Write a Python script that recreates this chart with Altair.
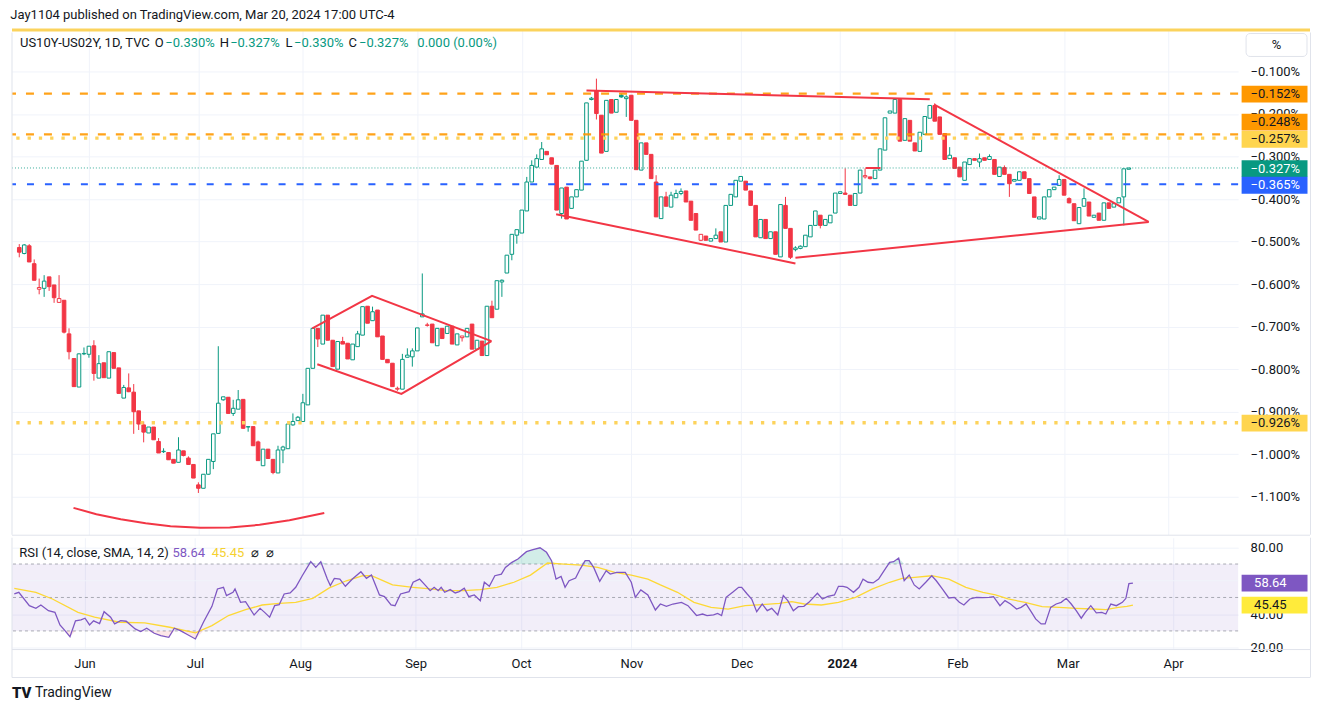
import altair as alt
import pandas as pd
import numpy as np

# ---------------- candle data (US10Y-US02Y, daily, %) ----------------
opens = [-0.514,-0.528,-0.510,-0.552,-0.612,-0.610,-0.583,-0.602,-0.643,-0.638,
 -0.717,-0.775,-0.842,-0.764,-0.765,-0.745,-0.821,-0.785,-0.821,-0.761,
 -0.797,-0.868,-0.844,-0.854,-0.898,-0.931,-0.950,-0.936,-0.970,-0.994,
 -0.996,-1.012,-1.019,-0.992,-1.009,-1.024,-1.072,-1.080,-1.047,-1.017,
 -0.951,-0.872,-0.866,-0.904,-0.894,-0.871,-0.936,-0.935,-0.971,-1.027,
 -0.988,-1.012,-1.044,-0.990,-0.987,-0.931,-0.921,-0.923,-0.884,-0.798,
 -0.704,-0.741,-0.673,-0.732,-0.800,-0.735,-0.739,-0.778,-0.747,-0.720,
 -0.652,-0.686,-0.661,-0.722,-0.777,-0.786,-0.847,-0.847,-0.772,-0.771,
 -0.757,-0.677,-0.697,-0.694,-0.745,-0.704,-0.716,-0.699,-0.743,-0.726,
 -0.724,-0.694,-0.753,-0.734,-0.768,-0.652,-0.659,-0.595,-0.574,-0.530,
 -0.485,-0.480,-0.428,-0.360,-0.325,-0.307,-0.288,-0.303,-0.321,-0.434,
 -0.372,-0.422,-0.395,-0.379,-0.309,-0.166,-0.146,-0.203,-0.288,-0.166,
 -0.196,-0.156,-0.164,-0.156,-0.215,-0.332,-0.268,-0.295,-0.360,-0.446,
 -0.395,-0.419,-0.397,-0.387,-0.381,-0.405,-0.434,-0.497,-0.487,-0.499,
 -0.493,-0.477,-0.501,-0.415,-0.395,-0.358,-0.358,-0.381,-0.415,-0.491,
 -0.448,-0.493,-0.477,-0.536,-0.415,-0.469,-0.519,-0.516,-0.512,-0.489,
 -0.462,-0.438,-0.462,-0.456,-0.433,-0.387,-0.386,-0.391,-0.415,-0.386,
 -0.348,-0.348,-0.352,-0.332,-0.285,-0.198,-0.198,-0.166,-0.262,-0.215,
 -0.268,-0.288,-0.248,-0.210,-0.180,-0.207,-0.246,-0.305,-0.303,-0.325,
 -0.356,-0.319,-0.305,-0.313,-0.303,-0.307,-0.307,-0.347,-0.326,-0.342,
 -0.358,-0.356,-0.336,-0.352,-0.395,-0.447,-0.447,-0.395,-0.378,-0.368,
 -0.354,-0.399,-0.411,-0.458,-0.417,-0.407,-0.443,-0.433,-0.450,-0.409,
 -0.419,-0.409,-0.395,-0.330]
highs = [-0.506,-0.506,-0.506,-0.542,-0.587,-0.579,-0.583,-0.602,-0.579,-0.638,
 -0.704,-0.775,-0.763,-0.749,-0.746,-0.732,-0.767,-0.785,-0.759,-0.761,
 -0.797,-0.837,-0.810,-0.835,-0.898,-0.923,-0.936,-0.936,-0.962,-0.986,
 -0.996,-1.012,-0.960,-0.992,-1.005,-1.024,-1.066,-1.047,-1.012,-0.952,
 -0.746,-0.865,-0.866,-0.872,-0.849,-0.871,-0.935,-0.935,-0.968,-0.988,
 -0.988,-1.012,-0.980,-0.980,-0.929,-0.904,-0.910,-0.858,-0.798,-0.704,
 -0.704,-0.673,-0.673,-0.732,-0.735,-0.724,-0.739,-0.741,-0.710,-0.653,
 -0.652,-0.653,-0.661,-0.722,-0.777,-0.786,-0.841,-0.764,-0.751,-0.751,
 -0.703,-0.575,-0.691,-0.694,-0.704,-0.704,-0.699,-0.699,-0.717,-0.722,
 -0.704,-0.694,-0.732,-0.734,-0.652,-0.639,-0.592,-0.589,-0.532,-0.483,
 -0.472,-0.426,-0.348,-0.309,-0.295,-0.266,-0.288,-0.303,-0.321,-0.374,
 -0.372,-0.395,-0.378,-0.311,-0.174,-0.160,-0.117,-0.203,-0.168,-0.166,
 -0.166,-0.152,-0.156,-0.156,-0.215,-0.268,-0.268,-0.295,-0.344,-0.395,
 -0.383,-0.383,-0.378,-0.375,-0.381,-0.405,-0.434,-0.483,-0.487,-0.493,
 -0.469,-0.477,-0.415,-0.389,-0.356,-0.347,-0.358,-0.381,-0.415,-0.448,
 -0.448,-0.477,-0.477,-0.413,-0.395,-0.469,-0.511,-0.509,-0.485,-0.462,
 -0.428,-0.438,-0.448,-0.438,-0.386,-0.383,-0.328,-0.391,-0.387,-0.332,
 -0.328,-0.348,-0.332,-0.282,-0.209,-0.193,-0.166,-0.166,-0.211,-0.215,
 -0.268,-0.243,-0.206,-0.180,-0.175,-0.207,-0.246,-0.278,-0.303,-0.325,
 -0.313,-0.305,-0.305,-0.293,-0.303,-0.295,-0.307,-0.325,-0.321,-0.342,
 -0.354,-0.336,-0.336,-0.352,-0.395,-0.442,-0.395,-0.378,-0.372,-0.344,
 -0.354,-0.396,-0.411,-0.420,-0.375,-0.407,-0.438,-0.433,-0.409,-0.409,
 -0.410,-0.397,-0.329,-0.327]
lows = [-0.537,-0.530,-0.548,-0.591,-0.624,-0.630,-0.616,-0.644,-0.643,-0.716,
 -0.777,-0.841,-0.842,-0.767,-0.773,-0.827,-0.821,-0.820,-0.821,-0.798,
 -0.857,-0.868,-0.854,-0.952,-0.943,-0.972,-0.950,-0.966,-0.997,-0.997,
 -1.013,-1.021,-1.019,-1.005,-1.024,-1.056,-1.091,-1.080,-1.048,-1.035,
 -0.951,-0.874,-0.904,-0.910,-0.894,-0.940,-0.947,-0.980,-1.015,-1.027,
 -1.010,-1.047,-1.044,-1.021,-0.987,-0.933,-0.921,-0.923,-0.884,-0.798,
 -0.748,-0.741,-0.732,-0.794,-0.800,-0.741,-0.776,-0.778,-0.747,-0.720,
 -0.692,-0.686,-0.724,-0.777,-0.785,-0.841,-0.851,-0.847,-0.772,-0.794,
 -0.757,-0.677,-0.700,-0.738,-0.745,-0.728,-0.716,-0.741,-0.743,-0.735,
 -0.724,-0.753,-0.753,-0.768,-0.768,-0.679,-0.659,-0.630,-0.574,-0.544,
 -0.505,-0.480,-0.428,-0.360,-0.325,-0.307,-0.296,-0.318,-0.426,-0.446,
 -0.447,-0.422,-0.395,-0.379,-0.309,-0.168,-0.213,-0.292,-0.288,-0.198,
 -0.196,-0.162,-0.207,-0.215,-0.331,-0.332,-0.295,-0.352,-0.442,-0.446,
 -0.417,-0.419,-0.397,-0.391,-0.407,-0.450,-0.473,-0.499,-0.497,-0.499,
 -0.493,-0.501,-0.501,-0.415,-0.395,-0.358,-0.379,-0.415,-0.489,-0.491,
 -0.493,-0.493,-0.530,-0.536,-0.469,-0.541,-0.523,-0.518,-0.512,-0.489,
 -0.462,-0.469,-0.462,-0.456,-0.433,-0.387,-0.389,-0.415,-0.415,-0.386,
 -0.352,-0.354,-0.352,-0.332,-0.285,-0.198,-0.198,-0.264,-0.262,-0.264,
 -0.287,-0.288,-0.248,-0.210,-0.217,-0.248,-0.307,-0.305,-0.328,-0.348,
 -0.356,-0.319,-0.309,-0.325,-0.309,-0.307,-0.342,-0.347,-0.342,-0.395,
 -0.358,-0.356,-0.352,-0.387,-0.443,-0.447,-0.447,-0.395,-0.378,-0.368,
 -0.391,-0.410,-0.451,-0.458,-0.417,-0.440,-0.443,-0.450,-0.450,-0.422,
 -0.419,-0.409,-0.462,-0.330]
closes = [-0.525,-0.508,-0.548,-0.591,-0.608,-0.593,-0.606,-0.632,-0.634,-0.713,
 -0.759,-0.841,-0.764,-0.763,-0.746,-0.810,-0.787,-0.820,-0.759,-0.798,
 -0.857,-0.843,-0.853,-0.900,-0.929,-0.948,-0.936,-0.966,-0.997,-0.993,
 -1.013,-1.021,-0.990,-1.003,-1.024,-1.056,-1.080,-1.047,-1.012,-0.952,
 -0.880,-0.865,-0.904,-0.892,-0.872,-0.939,-0.935,-0.980,-1.015,-0.988,
 -1.010,-1.043,-0.990,-0.983,-0.929,-0.923,-0.913,-0.879,-0.798,-0.704,
 -0.729,-0.673,-0.732,-0.794,-0.735,-0.741,-0.776,-0.741,-0.717,-0.653,
 -0.692,-0.665,-0.724,-0.777,-0.785,-0.841,-0.845,-0.777,-0.767,-0.757,
 -0.703,-0.670,-0.696,-0.738,-0.704,-0.728,-0.699,-0.741,-0.717,-0.722,
 -0.704,-0.753,-0.732,-0.768,-0.652,-0.679,-0.592,-0.591,-0.532,-0.483,
 -0.472,-0.426,-0.360,-0.321,-0.305,-0.282,-0.296,-0.318,-0.426,-0.374,
 -0.447,-0.395,-0.378,-0.311,-0.174,-0.163,-0.199,-0.292,-0.168,-0.198,
 -0.166,-0.160,-0.160,-0.215,-0.331,-0.268,-0.295,-0.352,-0.442,-0.395,
 -0.417,-0.391,-0.387,-0.382,-0.407,-0.450,-0.473,-0.483,-0.497,-0.493,
 -0.485,-0.501,-0.415,-0.389,-0.356,-0.347,-0.379,-0.415,-0.489,-0.448,
 -0.493,-0.477,-0.530,-0.413,-0.469,-0.537,-0.515,-0.511,-0.485,-0.462,
 -0.428,-0.462,-0.448,-0.438,-0.386,-0.383,-0.389,-0.415,-0.387,-0.332,
 -0.345,-0.352,-0.332,-0.282,-0.209,-0.193,-0.166,-0.264,-0.211,-0.264,
 -0.287,-0.243,-0.206,-0.180,-0.217,-0.248,-0.307,-0.297,-0.328,-0.348,
 -0.313,-0.305,-0.309,-0.305,-0.309,-0.300,-0.342,-0.325,-0.342,-0.364,
 -0.354,-0.336,-0.352,-0.387,-0.443,-0.442,-0.395,-0.378,-0.372,-0.354,
 -0.391,-0.409,-0.451,-0.420,-0.399,-0.440,-0.438,-0.450,-0.409,-0.422,
 -0.411,-0.397,-0.329,-0.327]

# time axis (bar index of first session of each month)
month_ticks = [14, 36, 57, 80, 101, 123, 145, 165, 188, 210, 231]
month_labels = ["Jun", "Jul", "Aug", "Sep", "Oct", "Nov", "Dec", "2024", "Feb", "Mar", "Apr"]
price_ticks = [-0.1, -0.2, -0.3, -0.4, -0.5, -0.6, -0.7, -0.8, -0.9, -1.0, -1.1]
rsi_label_ticks = [20, 40, 80]
rsi_grid_extra = [60]

# RSI(14) line and its SMA(14), read as (bar position, value)
rsi_points = [(0,52.1),(0.9,53.1),(3.0,45.1),(4.3,43.5),(5.3,45.5),(6.8,42.1),(8.1,41.1),(9.1,33.6),
 (10.1,30.2),(11.1,26.6),(12.2,36.0),(13.3,36.6),(14.1,37.6),(15.0,33.6),(15.8,36.0),(17.0,34.4),
 (17.9,41.5),(19.2,38.2),(20.0,34.2),(21.2,36.2),(22.3,35.8),(24.1,31.2),(25.2,29.6),(26.4,31.6),
 (27.9,28.6),(29.2,27.2),(30.8,26.2),(31.9,31.6),(33.1,30.2),(34.4,28.0),(36.1,25.2),(37.7,35.2),
 (39.4,44.7),(40.5,55.1),(41.7,56.1),(42.3,51.1),(43.6,53.1),(44.0,55.1),(45.1,47.1),(46.1,47.5),
 (47.8,39.5),(49.0,43.5),(49.9,41.1),(50.9,38.2),(51.9,45.1),(52.8,45.7),(53.8,52.1),(55.0,52.7),
 (56.1,56.1),(57.4,63.0),(59.1,71.4),(60.1,68.0),(61.1,71.4),(62.4,61.0),(63.0,57.1),(63.8,61.4),
 (64.9,61.0),(66.0,56.7),(67.4,61.0),(69.1,65.4),(70.2,61.4),(71.2,63.4),(72.8,51.5),(73.8,50.5),
 (75.1,45.5),(75.9,45.1),(77.0,52.1),(78.7,53.5),(79.5,59.1),(80.8,61.0),(82.0,57.1),(82.9,54.1),
 (83.7,56.1),(84.5,54.1),(85.1,56.1),(85.8,53.1),(86.9,54.7),(87.9,52.7),(88.7,53.5),(89.7,55.5),
 (90.6,50.5),(91.7,51.5),(92.9,48.1),(93.7,59.1),(94.7,56.7),(95.8,63.0),(97.1,64.0),(97.9,68.0),
 (99.2,71.0),(100.4,73.0),(102.1,77.4),(103.4,78.6),(104.8,79.7),(106.1,77.0),(107.1,72.0),
 (108.0,61.0),(109.0,62.6),(109.8,56.1),(110.6,60.0),(111.9,61.6),(112.8,67.0),(113.8,72.0),
 (114.6,72.0),(115.5,68.0),(116.7,59.7),(118.0,66.0),(118.8,64.0),(120.1,65.0),(121.8,65.0),
 (123.0,59.1),(123.8,50.1),(124.9,54.5),(126.3,51.5),(127.8,42.5),
 (128.8,46.1),(130.0,44.7),(131.3,46.1),(133.0,47.1),(134.3,45.1),(136.0,39.2),(137.2,40.1),
 (138.1,39.2),(139.4,39.6),(140.2,40.5),(141.0,39.2),(141.9,50.1),(143.2,53.1),(144.4,56.1),
 (145.0,56.1),(146.1,52.1),(147.0,49.1),(148.0,41.5),(149.1,46.1),(150.1,42.1),(151.0,43.5),
 (152.2,39.6),(153.3,51.1),(154.2,48.1),(155.3,42.1),(156.3,44.5),(157.4,44.7),(158.4,47.1),
 (160.1,52.5),(161.1,49.1),(162.2,50.7),(163.5,51.5),(164.3,56.7),(165.2,56.7),(166.0,56.1),
 (167.3,53.1),(168.4,56.1),(169.2,61.0),(170.2,59.1),(171.2,58.7),(172.3,61.0),(173.4,66.0),
 (174.5,71.0),(175.3,71.4),(176.3,73.6),(177.4,60.0),(178.4,63.4),(179.4,57.5),(180.4,55.1),
 (181.7,59.1),(182.9,63.0),(183.8,60.0),(185.0,55.1),(186.3,49.7),(187.4,50.1),(188.4,47.1),
 (189.3,45.5),(190.5,49.1),(191.8,50.1),(193.1,49.9),(194.3,50.1),(195.2,50.5),(196.5,45.1),
 (197.5,48.1),(198.6,46.1),(199.8,43.1),(200.7,44.1),(201.7,46.1),(202.8,41.1),(203.6,37.2),
 (204.7,34.2),(205.5,34.2),(206.6,44.1),(207.7,46.1),(208.7,47.1),(209.7,49.5),(210.7,46.1),
 (211.7,42.1),(212.7,37.6),(213.5,41.1),(214.6,45.1),(215.7,40.8),(216.8,41.1),(217.6,40.1),
 (218.6,46.1),(219.7,45.1),(220.9,47.1),(221.6,49.5),(222.2,58.3),(223.0,58.64)]
sma_points = [(0,55.5),(4.3,53.1),(7.6,49.1),(12.7,41.1),(16.0,38.2),(21.0,35.2),(26.0,34.8),
 (31.0,32.2),(36.1,28.8),(39.4,33.2),(42.7,39.2),(46.1,42.7),(49.4,45.5),(52.8,46.5),(56.1,47.1),
 (59.5,49.5),(62.8,55.7),(66.2,60.0),(69.5,63.0),(71.2,63.0),(72.8,61.0),(75.4,57.5),(79.5,56.1),
 (82.9,55.1),(86.2,54.1),(89.6,54.1),(92.9,54.7),(96.2,56.1),(99.6,59.1),(102.9,63.4),(106.3,70.6),
 (109.6,70.0),(113.0,69.4),(116.3,68.0),(119.7,65.0),(123.0,63.4),(126.3,61.0),(128.8,57.5),
 (132.2,53.1),(135.5,47.1),(138.9,44.1),(142.3,43.1),(145.7,45.1),(149.1,45.7),(152.5,46.5),
 (155.0,47.5),(157.5,46.1),(160.9,45.5),(164.3,47.1),(167.7,50.1),(171.1,55.1),(174.5,59.1),
 (177.0,61.4),(179.5,62.0),(182.9,63.0),(186.3,61.0),(189.7,56.1),(193.1,53.1),(195.6,51.5),
 (198.1,49.1),(201.5,47.1),(204.9,44.5),(208.3,44.1),(211.7,43.5),(215.1,43.1),(217.6,42.7),
 (220.1,44.1),(221.8,44.7),(223.0,45.45)]

# drawings (bar position, value)
arc_points = [(10.9,-1.126),(15.5,-1.141),(20.4,-1.153),(25.4,-1.162),(30.4,-1.169),(36.4,-1.173),
 (42.3,-1.172),(48.3,-1.166),(54.3,-1.155),(61.3,-1.138)]
diamond_top = [(58.9,-0.704),(70.9,-0.6275),(94.9,-0.734)]
diamond_bottom = [(59.9,-0.7885),(76.8,-0.858),(94.9,-0.734)]
tri_top = [(114.0,-0.1446),(183.0,-0.1657)]
tri_low_left = [(107.9,-0.4357),(156.0,-0.5514)]
tri_low_right = [(156.0,-0.5383),(227.0,-0.4538)]
tri_diag = [(183.9,-0.1782),(227.0,-0.4538)]
small_flat = [(170.1,-0.327),(173.1,-0.327)]

orange_levels = [-0.152, -0.248]
yellow_levels = [-0.257, -0.926]
blue_levels = [-0.365]
last_price = [-0.327]

tag_labels = ["\u22120.152%", "\u22120.248%", "\u22120.257%", "\u22120.327%", "\u22120.365%", "\u22120.926%"]
tag_values = [-0.1535, -0.219, -0.2596, -0.3284, -0.3676, -0.927]
tag_bg = ["#ff9800", "#ff9800", "#ffd54f", "#089981", "#2962ff", "#ffd54f"]
tag_fg = ["#131722", "#131722", "#131722", "#ffffff", "#ffffff", "#131722"]

rsi_tag_labels = ["58.64", "45.45"]
rsi_tag_values = [58.64, 45.45]
rsi_tag_bg = ["#7e57c2", "#ffeb3b"]
rsi_tag_fg = ["#ffffff", "#131722"]

# ---------------- build frames ----------------
RED, GREEN = "#f23645", "#089981"
DARK = "#131722"
FONT = "Roboto"
W, H_MAIN, H_RSI = 1228, 507, 112

df = pd.DataFrame({"i": range(len(closes)), "o": opens, "h": highs, "l": lows, "c": closes})
prev = df["c"].shift(1).fillna(df["o"])
df["col"] = np.where(df["c"] < prev, RED, GREEN)
df["fill"] = np.where(df["c"] > df["o"], "#ffffff", df["col"])

segs = []
for name, pts in [("arc", arc_points), ("dt", diamond_top), ("db", diamond_bottom), ("tt", tri_top),
                  ("tll", tri_low_left), ("tlr", tri_low_right), ("td", tri_diag), ("sf", small_flat)]:
    for k, (x, v) in enumerate(pts):
        segs.append({"seg": name, "k": k, "i": x, "v": v})
seg_df = pd.DataFrame(segs)

rsi_df = pd.DataFrame(rsi_points, columns=["i", "v"])
sma_df = pd.DataFrame(sma_points, columns=["i", "v"])
one = pd.DataFrame({"a": [0]})

xscale = alt.Scale(domain=[-0.46, 243.97], nice=False, zero=False)
yscale = alt.Scale(domain=[-1.1892, 0.0009], nice=False, zero=False)
rscale = alt.Scale(domain=[18.87, 85.73], nice=False, zero=False)

xaxis_main = alt.Axis(values=month_ticks, grid=True, gridColor="#f0f3fa", labels=False,
                      ticks=False, domain=False, title=None)
yaxis_main = alt.Axis(orient="right", values=price_ticks, grid=True, gridColor="#f0f3fa",
                      ticks=False, domain=False, title=None, labelAlign="left", labelPadding=12,
                      labelFontSize=13, labelColor=DARK, labelFont=FONT,
                      labelExpr="'\u2212' + format(-datum.value, '.3f') + '%'")

label_expr = " : ".join([f"datum.value == {t} ? '{lab}'" for t, lab in zip(month_ticks, month_labels)]) + " : ''"
xaxis_rsi = alt.Axis(values=month_ticks, grid=True, gridColor="#f0f3fa", ticks=False, domain=False,
                     title=None, labelExpr=label_expr, labelPadding=8, labelFontSize=13,
                     labelColor=DARK, labelFont=FONT,
                     labelFontWeight=alt.condition("datum.value == 165", alt.value("bold"), alt.value("normal")))
yaxis_rsi = alt.Axis(orient="right", values=rsi_label_ticks, grid=True, gridColor="#f0f3fa", ticks=False,
                     domain=False, title=None, labelAlign="left", labelPadding=12, labelFontSize=13,
                     labelColor=DARK, labelFont=FONT, labelExpr="format(datum.value, '.2f')")


def X(f):
    return alt.X(f"{f}:Q", scale=xscale, axis=xaxis_main)


def Y(f):
    return alt.Y(f"{f}:Q", scale=yscale, axis=yaxis_main)


def XR(f):
    return alt.X(f"{f}:Q", scale=xscale, axis=xaxis_rsi)


def YR(f):
    return alt.Y(f"{f}:Q", scale=rscale, axis=yaxis_rsi)


TAG_SHAPE = "M-3.3,-0.84L3.3,-0.84L3.3,0.84L-3.3,0.84Z"

# ---------------- main pane ----------------
wicks = alt.Chart(df).mark_rule(strokeWidth=1).encode(
    x=X("i"), y=Y("l"), y2="h", color=alt.Color("col:N", scale=None))
bodies = alt.Chart(df).mark_bar(width=3.6, strokeWidth=1).encode(
    x=X("i"), y=Y("o"), y2="c", fill=alt.Fill("fill:N", scale=None), stroke=alt.Stroke("col:N", scale=None))

lv_orange = alt.Chart(pd.DataFrame({"v": orange_levels})).mark_rule(
    color="#ff9800", strokeWidth=2.2, strokeDash=[8, 10], opacity=0.9).encode(y=Y("v"))
lv_yellow = alt.Chart(pd.DataFrame({"v": yellow_levels})).mark_rule(
    color="#fdd35c", strokeWidth=3.3, strokeDash=[3.3, 8]).encode(y=Y("v"))
lv_blue = alt.Chart(pd.DataFrame({"v": blue_levels})).mark_rule(
    color="#2962ff", strokeWidth=2, strokeDash=[7, 11]).encode(y=Y("v"))
lv_last = alt.Chart(pd.DataFrame({"v": last_price})).mark_rule(
    color="#089981", strokeWidth=1, strokeDash=[1, 2], opacity=0.8).encode(y=Y("v"))

trend = alt.Chart(seg_df).mark_line(color=RED, strokeWidth=2).encode(
    x=X("i"), y=Y("v"), detail="seg:N", order="k:Q")

tag_df = pd.DataFrame({"v": tag_values, "t": tag_labels, "bg": tag_bg, "fg": tag_fg})
tags = alt.Chart(tag_df).mark_point(shape=TAG_SHAPE, filled=True, size=400, opacity=1, strokeWidth=0).encode(
    x=alt.value(1264.5), y=Y("v"), color=alt.Color("bg:N", scale=None))
tag_txt = alt.Chart(tag_df).mark_text(align="left", baseline="middle", fontSize=13, font=FONT).encode(
    x=alt.value(1240.5), y=Y("v"), text="t:N", color=alt.Color("fg:N", scale=None))

header_items = [("US10Y-US02Y, 1D, TVC", 8, DARK), ("O", 143, DARK), ("\u22120.330%", 153.5, GREEN),
                ("H", 208, DARK), ("\u22120.327%", 218.5, GREEN), ("L", 274, DARK),
                ("\u22120.330%", 282.5, GREEN), ("C", 337, DARK), ("\u22120.327%", 347.5, GREEN),
                ("0.000 (0.00%)", 406, GREEN)]
header_layers = [
    alt.Chart(one).mark_text(text=t, align="left", baseline="middle", fontSize=13, font=FONT, color=c).encode(
        x=alt.value(px), y=alt.value(15))
    for t, px, c in header_items]

stripe = alt.Chart(one).mark_rule(color="#fbd35d", strokeWidth=3).encode(
    x=alt.value(0), x2=alt.value(1300), y=alt.value(1.5))
pct_box = alt.Chart(one).mark_rect(fill="white", stroke="#e0e3eb", strokeWidth=1, cornerRadius=4).encode(
    x=alt.value(1236), x2=alt.value(1297), y=alt.value(5), y2=alt.value(28))
pct_txt = alt.Chart(one).mark_text(text="%", fontSize=13, font=FONT, color=DARK).encode(
    x=alt.value(1266.5), y=alt.value(16.5))
border_r = alt.Chart(one).mark_rule(color="#e0e3eb").encode(
    x=alt.value(1300.5), y=alt.value(4), y2=alt.value(H_MAIN))
border_l = alt.Chart(one).mark_rule(color="#e0e3eb").encode(
    x=alt.value(0), y=alt.value(4), y2=alt.value(H_MAIN))
sep = alt.Chart(one).mark_rule(color="#e0e3eb").encode(
    x=alt.value(0), x2=alt.value(1300), y=alt.value(H_MAIN + 0.5))

main = alt.layer(
    wicks, bodies, lv_last, lv_orange, lv_yellow, lv_blue, trend, tags, tag_txt,
    *header_layers, stripe, pct_box, pct_txt, border_r, border_l, sep
).properties(width=W, height=H_MAIN)

# ---------------- RSI pane ----------------
band = alt.Chart(pd.DataFrame({"a": [70], "b": [30]})).mark_rect(color="#7e57c2", opacity=0.1).encode(
    x=alt.value(0), x2=alt.value(W), y=YR("a"), y2="b")
grid60 = alt.Chart(pd.DataFrame({"v": rsi_grid_extra})).mark_rule(color="#f0f3fa", strokeWidth=1).encode(
    y=YR("v"))
rsi_lines = alt.Chart(pd.DataFrame({"v": [70, 50, 30]})).mark_rule(
    color="#9598a1", strokeDash=[3, 3], strokeWidth=1, opacity=0.8).encode(y=YR("v"))
ob = alt.Chart(rsi_df).transform_calculate(top="max(datum.v, 70)", base="70").mark_area(
    color="#089981", opacity=0.18).encode(x=XR("i"), y=YR("top"), y2="base:Q")
os_ = alt.Chart(rsi_df).transform_calculate(bot="min(datum.v, 30)", base="30").mark_area(
    color="#f23645", opacity=0.12).encode(x=XR("i"), y=YR("bot"), y2="base:Q")
sma_line = alt.Chart(sma_df).mark_line(color="#fdd835", strokeWidth=1.3).encode(x=XR("i"), y=YR("v"))
rsi_line = alt.Chart(rsi_df).mark_line(color="#7e57c2", strokeWidth=1.3).encode(x=XR("i"), y=YR("v"))

rtag_df = pd.DataFrame({"v": rsi_tag_values, "t": rsi_tag_labels, "bg": rsi_tag_bg, "fg": rsi_tag_fg})
rtags = alt.Chart(rtag_df).mark_point(shape=TAG_SHAPE, filled=True, size=400, opacity=1, strokeWidth=0).encode(
    x=alt.value(1264.5), y=YR("v"), color=alt.Color("bg:N", scale=None))
rtag_txt = alt.Chart(rtag_df).mark_text(align="left", baseline="middle", fontSize=13, font=FONT).encode(
    x=alt.value(1244), y=YR("v"), text="t:N", color=alt.Color("fg:N", scale=None))

rsi_header_items = [("RSI (14, close, SMA, 14, 2)", 7.3, DARK), ("58.64", 160.7, "#7e57c2"),
                    ("45.45", 200, "#f5d130"), ("\u2300", 239, DARK), ("\u2300", 254, DARK)]
rsi_header = [
    alt.Chart(one).mark_text(text=t, align="left", baseline="middle", fontSize=13, font=FONT, color=c).encode(
        x=alt.value(px), y=alt.value(15))
    for t, px, c in rsi_header_items]

r_border_r = alt.Chart(one).mark_rule(color="#e0e3eb").encode(
    x=alt.value(1300.5), y=alt.value(0), y2=alt.value(140))
r_border_l = alt.Chart(one).mark_rule(color="#e0e3eb").encode(
    x=alt.value(0), y=alt.value(0), y2=alt.value(140))
r_bottom = alt.Chart(one).mark_rule(color="#e0e3eb").encode(
    x=alt.value(0), x2=alt.value(1300), y=alt.value(140))
r_axisline = alt.Chart(one).mark_rule(color="#e0e3eb").encode(
    x=alt.value(0), x2=alt.value(1300), y=alt.value(H_RSI))
logo_icon = alt.Chart(one).mark_text(text="TV", align="left", baseline="middle", fontSize=15,
                                     font=FONT, fontWeight=900, color=DARK).encode(
    x=alt.value(0), y=alt.value(156))
logo_txt = alt.Chart(one).mark_text(text="TradingView", align="left", baseline="middle", fontSize=14,
                                    font=FONT, color=DARK).encode(x=alt.value(23), y=alt.value(156))

rsi = alt.layer(
    band, grid60, rsi_lines, ob, os_, sma_line, rsi_line, rtags, rtag_txt, *rsi_header,
    r_border_r, r_border_l, r_bottom, r_axisline, logo_icon, logo_txt
).properties(width=W, height=H_RSI)

chart = alt.vconcat(main, rsi, spacing=1).properties(
    title=alt.TitleParams("Jay1104 published on TradingView.com, Mar 20, 2024 17:00 UTC-4",
                          anchor="start", fontSize=13, fontWeight="normal", color=DARK, font=FONT, offset=7),
    padding={"left": 2, "top": 0, "right": 0, "bottom": 0},
).configure(font=FONT, background="white").configure_view(stroke=None)

chart.save("out.html", embed_options={"renderer": "svg", "actions": False})
